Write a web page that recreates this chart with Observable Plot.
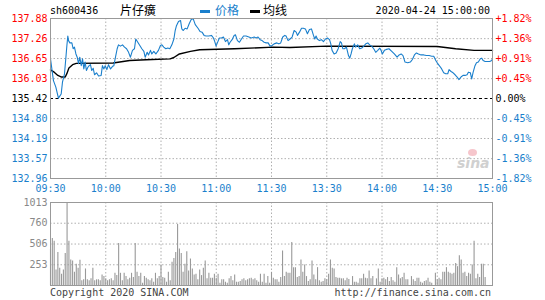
<!DOCTYPE html>
<html><head><meta charset="utf-8">
<script src="https://cdn.jsdelivr.net/npm/d3@7"></script>
<script src="https://cdn.jsdelivr.net/npm/@observablehq/plot@0.6"></script>
<style>
body{margin:0;background:#fff;}
#wrap{position:relative;width:545px;height:300px;overflow:hidden;font-family:"DejaVu Sans Mono",monospace;}
.t{position:absolute;white-space:nowrap;font-size:10px;line-height:12px;}
.cjk{font-family:"Noto Sans CJK SC",sans-serif;font-size:12px;line-height:14px;}
.plot{position:absolute;left:0;}
</style></head><body><div id="wrap">
<div class="t" style="left:50px;top:5px;color:#000">sh600436</div>
<div class="t cjk" style="left:120px;top:3px;color:#000">片仔癀</div>
<div style="position:absolute;left:200px;top:10px;width:10px;height:3px;background:#1a7fcc"></div>
<div class="t cjk" style="left:215px;top:3px;color:#1a7fcc">价格</div>
<div style="position:absolute;left:250px;top:10px;width:10px;height:3px;background:#000"></div>
<div class="t cjk" style="left:263px;top:3px;color:#000">均线</div>
<div class="t" style="right:55px;top:5px;color:#000">2020-04-24 15:00:00</div>
<div class="t" style="left:50px;top:287px;color:#444">Copyright 2020 SINA.COM</div>
<div class="t" style="right:54px;top:287px;color:#444">http://finance.sina.com.cn</div>
<div class="t" style="left:457px;top:155px;font:italic bold 14px 'DejaVu Sans',sans-serif;color:#d0d0d0">sina</div>
<div style="position:absolute;left:468px;top:149px;width:9px;height:7px;border-radius:50%;background:#f6c6cc"></div>
</div>
<script>
// ---- data ----
const stockCode = "sh600436";
const priceTicks = [137.88, 137.26, 136.65, 136.03, 135.42, 134.80, 134.19, 133.57, 132.96];
const pctLabels = ["+1.82%", "+1.36%", "+0.91%", "+0.45%", "0.00%", "-0.45%", "-0.91%", "-1.36%", "-1.82%"];
const prevClose = 135.42;
const timeTickMinutes = [0, 30, 60, 90, 120, 150, 180, 210, 240];
const timeLabels = ["09:30", "10:00", "10:30", "11:00", "11:30", "13:30", "14:00", "14:30", "15:00"];
const volTicks = [253, 506, 760, 1013];

const priceMinutes = [0,1.6,2.9,4.3,5.8,6.5,7.6,8.3,8.9,9.4,9.8,10.5,11.6,12.3,13.0,13.8,14.5,15.2,15.9,16.7,17.4,18.1,18.8,19.5,20.3,21.0,21.7,22.4,23.2,23.9,25.0,26.1,27.5,28.2,29.0,29.7,30.6,31.5,32.6,33.7,34.4,35.1,36.2,36.9,38.0,39.1,40.2,41.3,42.4,43.4,44.5,45.6,46.3,47.4,48.5,49.6,50.7,51.4,52.5,53.2,54.3,55.0,56.1,57.2,58.6,59.7,60.5,61.5,62.6,63.7,64.8,65.9,67.0,67.7,68.4,69.5,70.6,71.3,72.0,73.1,74.2,75.3,76.4,77.5,78.6,80.1,81.2,82.3,83.4,84.5,85.9,87.4,88.5,89.2,89.9,90.6,91.7,92.8,93.9,95.0,96.1,96.8,97.5,98.6,99.7,100.4,101.5,102.6,103.7,104.8,106.2,107.7,109.1,110.6,111.6,112.7,113.8,114.9,116.0,117.1,118.2,119.2,120.3,121.4,122.9,124.0,125.0,126.1,127.2,127.9,129.0,130.1,131.2,132.3,133.4,134.1,135.2,136.3,137.3,138.4,139.5,140.6,141.7,142.8,143.5,144.2,144.9,146.0,147.1,148.2,149.3,150.4,151.5,152.2,152.9,154.0,155.1,156.2,157.3,158.0,158.7,159.6,160.7,161.8,162.5,163.2,163.9,165.0,165.7,166.8,167.9,169.0,170.1,171.2,172.3,173.3,174.4,175.5,176.6,177.7,178.8,179.5,180.2,181.3,182.4,183.8,185.3,186.7,188.2,189.3,190.4,191.4,192.5,194.0,195.4,196.5,197.6,198.7,199.8,201.2,202.7,204.1,205.6,207.0,208.1,209.2,210.3,211.4,212.4,213.5,214.6,215.7,216.4,217.5,218.6,219.7,220.8,221.8,222.9,224.0,225.1,226.2,226.9,228.0,228.7,229.5,230.5,231.3,232.3,233.4,234.2,234.9,236.0,237.5,238.5,239.6,240];
const priceValues = [136.64,135.97,135.77,135.43,135.56,135.92,136.18,136.64,137.05,137.34,137.20,137.13,137.13,136.95,137.00,136.79,136.69,136.49,136.69,136.43,136.64,136.33,136.54,136.28,136.38,136.43,136.46,136.28,136.35,136.15,136.21,136.11,136.13,136.43,136.33,136.43,136.31,136.46,136.33,136.41,136.43,136.64,136.95,137.07,137.03,137.07,137.00,136.95,136.84,136.69,136.90,136.95,137.25,137.15,137.05,136.95,136.87,136.69,136.84,136.76,136.90,136.79,136.87,136.79,136.90,137.05,137.07,137.00,136.95,136.97,136.95,137.07,137.25,137.51,137.66,137.79,137.82,137.56,137.51,137.58,137.56,137.72,137.85,137.87,137.69,137.58,137.48,137.46,137.36,137.34,137.34,137.36,137.28,137.17,137.03,137.13,137.28,137.28,137.31,137.17,137.23,137.07,137.15,137.23,137.36,137.38,137.20,137.15,137.25,137.34,137.34,137.31,137.28,137.31,137.28,137.31,137.23,137.20,137.15,137.13,137.13,137.03,137.05,137.10,137.13,137.10,137.13,137.31,137.36,137.34,137.20,137.25,137.31,137.51,137.46,137.36,137.46,137.58,137.58,137.56,137.41,137.54,137.56,137.36,137.25,137.34,137.25,137.20,137.23,137.17,137.25,137.28,137.23,137.10,136.90,136.79,136.82,136.95,137.17,137.13,136.95,136.95,137.00,136.74,136.66,136.79,136.95,137.10,137.00,137.07,136.95,136.97,137.03,137.10,137.13,137.07,137.03,136.95,136.84,136.90,136.97,136.90,136.79,136.90,136.93,136.95,136.87,136.79,136.69,136.76,136.79,136.74,136.54,136.52,136.54,136.62,136.76,136.82,136.79,136.76,136.76,136.74,136.74,136.72,136.72,136.59,136.49,136.41,136.33,136.21,136.18,136.18,136.31,136.25,136.21,136.15,136.08,136.00,136.08,136.13,136.13,136.15,136.23,136.21,136.02,136.23,136.43,136.52,136.54,136.64,136.66,136.59,136.56,136.56,136.56,136.59,136.64];

const avgMinutes = [0,2,4,6,8,9,10,12,14,34,43,52,65,67,70,76,81,100,121,130,150,210,220,230,240];
const avgValues = [136.30,136.23,136.13,136.08,136.08,136.20,136.36,136.46,136.50,136.51,136.59,136.61,136.64,136.68,136.79,136.87,136.92,136.95,137.00,136.99,137.03,137.02,136.95,136.90,136.90];

const volMinutes = [0,1,2,3,4,5,6,7,8,9,10,11,12,13,14,15,16,17,18,19,20,21,22,23,24,25,26,27,28,29,30,31,32,33,34,35,36,37,38,39,40,41,42,43,44,45,46,47,48,49,50,51,52,53,54,55,56,57,58,59,60,61,62,63,64,65,66,67,68,69,70,71,72,73,74,75,76,77,78,79,80,81,82,83,84,85,86,87,88,89,90,91,92,93,94,95,96,97,98,99,100,101,102,103,104,105,106,107,108,109,110,111,112,113,114,115,116,117,118,119,120,121,122,123,124,125,126,127,128,129,130,131,132,133,134,135,136,137,138,139,140,141,142,143,144,145,146,147,148,149,150,151,152,153,154,155,156,157,158,159,160,161,162,164,165,166,167,168,169,170,171,172,173,174,175,177,178,179,180,181,182,183,184,185,186,187,188,189,190,191,192,193,194,196,197,198,199,200,201,202,203,204,205,206,207,209,210,211,212,213,214,215,216,217,218,219,220,221,222,223,224,225,226,227,228,229,230,231,232,233,234,235,236];
const volValues = [444,573,541,190,404,210,137,190,391,1013,541,311,299,161,258,210,307,57,69,202,69,57,81,210,57,69,69,57,129,109,81,57,69,81,57,149,121,513,149,57,149,109,69,89,149,97,513,161,109,149,28,109,89,69,57,81,40,149,81,109,250,97,89,40,161,57,283,331,404,743,444,391,161,258,412,178,323,202,129,137,69,190,121,210,299,81,149,89,89,137,89,137,28,69,69,40,28,81,109,57,129,40,40,48,69,81,57,69,81,89,69,81,57,40,137,40,137,28,109,28,161,89,69,69,40,97,420,109,161,149,149,525,218,218,97,109,311,161,250,109,48,69,299,129,69,218,57,40,48,81,69,137,311,210,202,97,89,89,81,81,57,89,73,109,40,40,28,81,81,137,89,81,178,81,109,81,202,40,81,89,69,97,48,97,57,40,218,129,81,97,149,69,69,109,69,48,89,89,40,28,48,57,89,40,28,149,69,89,69,161,161,218,161,149,137,149,270,230,363,311,149,161,109,149,137,250,541,81,137,97,258,258,97];

// ---- tables ----
const priceData = priceMinutes.map((m, i) => ({m, p: priceValues[i]}));
const avgData = avgMinutes.map((m, i) => ({m, p: avgValues[i]}));
const volData = volMinutes.map((m, i) => ({m, v: volValues[i]}));

const BLUE = "#1a7fcc", RED = "#ff0000", GRID = "#b0b0b0", FRAME = "#999";
const font = "'DejaVu Sans Mono', monospace";
const upTicks = priceTicks.filter(t => t > prevClose);
const downTicks = priceTicks.filter(t => t < prevClose);
const pct = d => pctLabels[priceTicks.indexOf(d)];
const fmt2 = d => d.toFixed(2);
const ax = {tickSize: 0, tickPadding: 3, label: null};

const pricePlot = Plot.plot({
  width: 545, height: 198,
  marginLeft: 50, marginRight: 53, marginTop: 18, marginBottom: 20,
  style: {fontFamily: font, fontSize: "10px", background: "transparent", overflow: "visible"},
  x: {domain: [0, 240], axis: null, label: null},
  y: {domain: [132.96, 137.88], axis: null, label: null},
  marks: [
    Plot.gridX(timeTickMinutes.slice(1, -1), {stroke: GRID, strokeOpacity: 1, strokeDasharray: "1.5,2"}),
    Plot.gridY(priceTicks.filter(t => t !== prevClose), {stroke: GRID, strokeOpacity: 1, strokeDasharray: "1.5,2"}),
    Plot.ruleY([prevClose], {stroke: "#000", strokeDasharray: "3,2.5"}),
    Plot.line(avgData, {x: "m", y: "p", stroke: "#000", strokeWidth: 1.4}),
    Plot.line(priceData, {x: "m", y: "p", stroke: BLUE, strokeWidth: 1.1}),
    Plot.frame({stroke: FRAME}),
    Plot.axisY(upTicks, {...ax, anchor: "left", tickFormat: fmt2, fill: RED}),
    Plot.axisY([prevClose], {...ax, anchor: "left", tickFormat: fmt2, fill: "#000"}),
    Plot.axisY(downTicks, {...ax, anchor: "left", tickFormat: fmt2, fill: BLUE}),
    Plot.axisY(upTicks, {...ax, anchor: "right", tickFormat: pct, fill: RED}),
    Plot.axisY([prevClose], {...ax, anchor: "right", tickFormat: pct, fill: "#000"}),
    Plot.axisY(downTicks, {...ax, anchor: "right", tickFormat: pct, fill: BLUE}),
    Plot.axisX(timeTickMinutes, {...ax, anchor: "bottom", tickPadding: 6, tickFormat: d => timeLabels[timeTickMinutes.indexOf(d)], fill: BLUE})
  ]
});
pricePlot.classList.add("plot");
pricePlot.style.top = "0px";

const volPlot = Plot.plot({
  width: 545, height: 110,
  marginLeft: 50, marginRight: 53, marginTop: 12, marginBottom: 15,
  style: {fontFamily: font, fontSize: "10px", background: "transparent", overflow: "visible"},
  x: {domain: [0, 240], axis: null, label: null},
  y: {domain: [0, 1013], axis: null, label: null},
  marks: [
    Plot.gridX(timeTickMinutes.slice(1, -1), {stroke: GRID, strokeOpacity: 1, strokeDasharray: "1.5,2"}),
    Plot.gridY(volTicks.slice(0, -1), {stroke: GRID, strokeOpacity: 1, strokeDasharray: "1.5,2"}),
    Plot.ruleX(volData, {x: "m", y1: 0, y2: "v", stroke: "#999", strokeWidth: 1.1}),
    Plot.frame({stroke: FRAME}),
    Plot.axisY(volTicks, {...ax, anchor: "left", tickFormat: d => String(d), fill: "#888"})
  ]
});
volPlot.classList.add("plot");
volPlot.style.top = "190px";

const wrap = document.getElementById("wrap");
wrap.appendChild(pricePlot);
wrap.appendChild(volPlot);
</script>
</body></html>
